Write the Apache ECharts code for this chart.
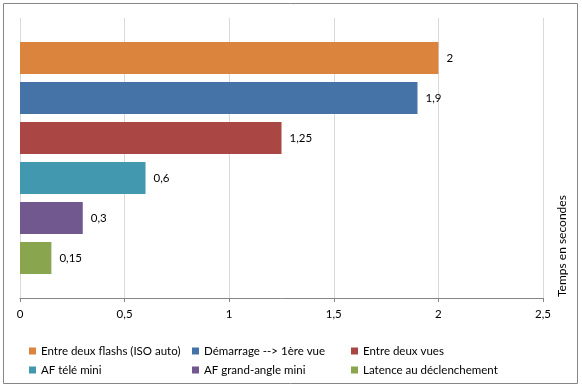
<!DOCTYPE html>
<html><head><meta charset="utf-8">
<script src="https://cdn.jsdelivr.net/npm/echarts@6/dist/echarts.min.js"></script>
<style>html,body{margin:0;padding:0;background:#fff}#c{width:582px;height:388px}</style>
</head><body><div id="c"></div>
<script>
var seriesNames = ['Entre deux flashs (ISO auto)', 'Démarrage --> 1ère vue', 'Entre deux vues', 'AF télé mini', 'AF grand-angle mini', 'Latence au déclenchement'];
var seriesValues = [2, 1.9, 1.25, 0.6, 0.3, 0.15];
var seriesColors = ['#DB843D', '#4572A7', '#AA4643', '#4198AF', '#71588F', '#89A54E'];
var xTicks = [0, 0.5, 1, 1.5, 2, 2.5];
var axisTitle = 'Temps en secondes';

var FONT = 'Lato';
function fr(v){ return String(v).replace('.', ','); }

var chart = echarts.init(document.getElementById('c'));
var series = seriesNames.map(function(n, i){
  return {
    name: n, type: 'bar', data: [seriesValues[i]],
    barWidth: 32, barGap: '25%',
    itemStyle: {color: seriesColors[i]},
    label: {show: true, position: 'right', distance: 8, color: '#000', fontFamily: FONT, fontSize: 11.5,
      formatter: function(p){ return fr(p.value); }}
  };
});
function legendCol(left, names){
  return {orient: 'vertical', left: left, top: 340, itemGap: 7, itemWidth: 7, itemHeight: 7, icon: 'rect',
    selectedMode: false, data: names, textStyle: {fontFamily: FONT, fontSize: 11.5, color: '#000', padding: [0,0,0,0]}};
}
chart.setOption({
  animation: false,
  grid: {left: 20, right: 39, top: 18, bottom: 90},
  xAxis: {type: 'value', min: xTicks[0], max: xTicks[xTicks.length-1], interval: 0.5,
    axisLine: {show: true, lineStyle: {color: '#868686'}},
    axisTick: {show: true, length: 4, lineStyle: {color: '#868686'}},
    axisLabel: {color: '#000', fontFamily: FONT, fontSize: 11.5, margin: 10, formatter: function(v){ return fr(v); }},
    splitLine: {show: true, lineStyle: {color: '#D9D9D9'}}},
  yAxis: {type: 'category', data: [''], inverse: true, axisLine: {show: false}, axisTick: {show: false}, axisLabel: {show: false}},
  legend: [legendCol(24, [seriesNames[0], seriesNames[3]]), legendCol(187, [seriesNames[1], seriesNames[4]]), legendCol(346, [seriesNames[2], seriesNames[5]])],
  graphic: [
    {type: 'rect', shape: {x: 3.5, y: 3.5, width: 574, height: 380}, style: {fill: 'none', stroke: '#868686', lineWidth: 1}, z: -1},
    {type: 'text', x: 562, y: 297, rotation: Math.PI/2, style: {text: axisTitle, fontFamily: FONT, fontSize: 12, fill: '#000', textAlign: 'left', textVerticalAlign: 'middle'}}
  ],
  series: series
});
</script></body></html>
